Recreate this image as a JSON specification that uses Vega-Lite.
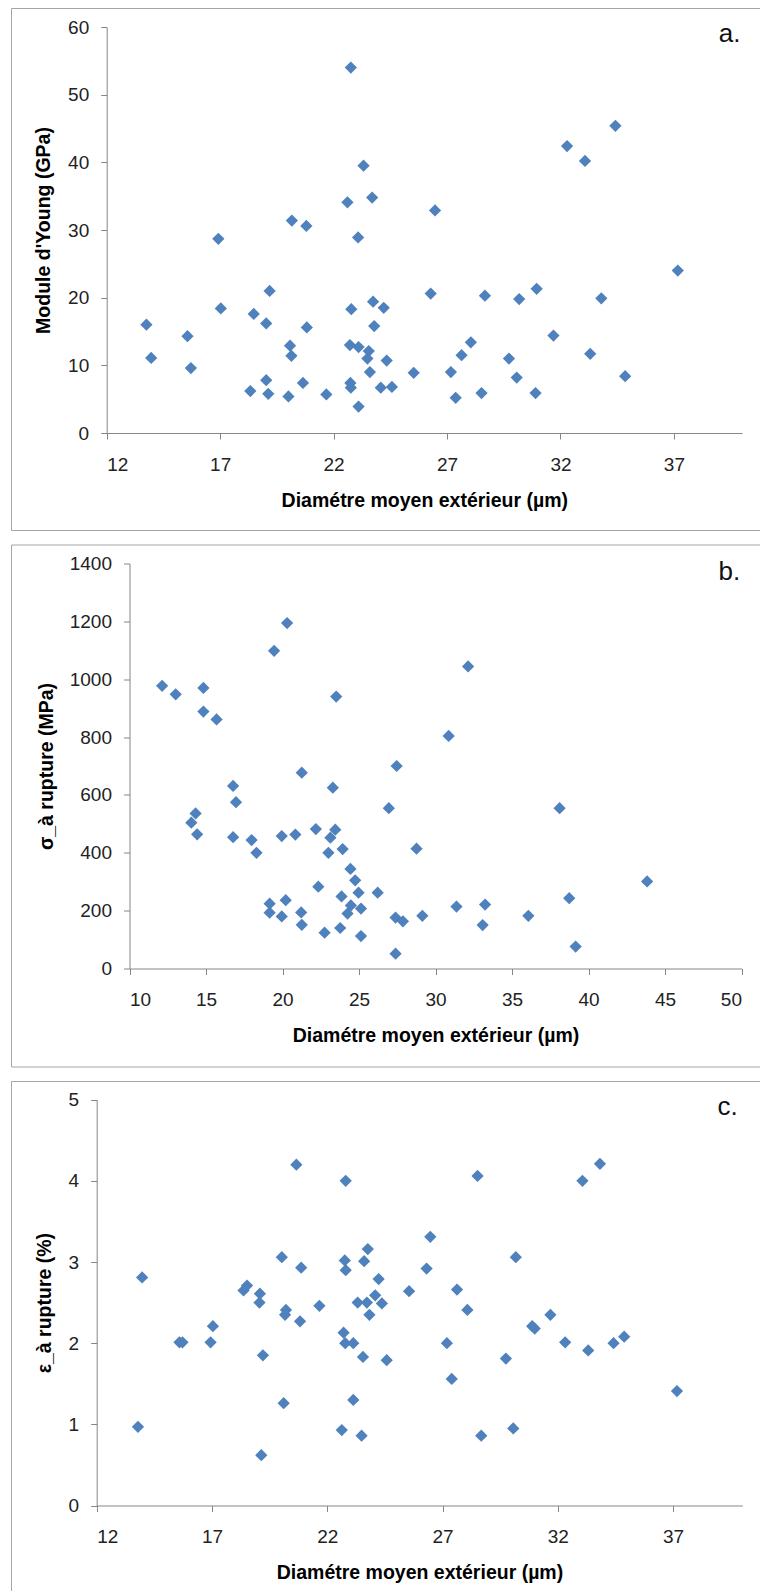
{
  "$schema": "https://vega.github.io/schema/vega-lite/v6.json",
  "padding": {"left": 10, "top": 7, "right": 0, "bottom": 0},
  "spacing": 12.5,
  "config": {
    "view": {"stroke": "#A6A6A6", "strokeWidth": 1},
    "axis": {
      "grid": false,
      "domainColor": "#868686",
      "tickColor": "#868686",
      "tickSize": 6,
      "labelFont": "Liberation Sans",
      "labelFontSize": 19,
      "labelColor": "#222222",
      "titleFont": "Liberation Sans",
      "titleFontSize": 19.5,
      "titleFontWeight": "bold",
      "titleColor": "#000000",
      "titleBaseline": "middle"
    },
    "axisX": {"labelPadding": 16, "titleY": 67},
    "axisY": {"labelPadding": 12}
  },
  "datasets": {
    "a": [
      {"d":13.75,"v":16.0},{"d":13.96,"v":11.1},{"d":15.56,"v":14.3},{"d":15.71,"v":9.6},{"d":16.92,"v":28.7},{"d":17.03,"v":18.4},{"d":18.33,"v":6.2},{"d":18.48,"v":17.6},{"d":19.03,"v":16.2},{"d":19.03,"v":7.8},{"d":19.12,"v":5.8},{"d":19.18,"v":21.0},{"d":20.01,"v":5.4},{"d":20.08,"v":12.9},{"d":20.14,"v":11.4},{"d":20.16,"v":31.4},{"d":20.65,"v":7.4},{"d":20.80,"v":30.6},{"d":20.82,"v":15.6},{"d":21.68,"v":5.7},{"d":22.61,"v":34.1},{"d":22.72,"v":13.0},{"d":22.74,"v":7.4},{"d":22.76,"v":6.7},{"d":22.78,"v":18.3},{"d":22.76,"v":54.0},{"d":23.08,"v":28.9},{"d":23.10,"v":12.7},{"d":23.10,"v":3.9},{"d":23.32,"v":39.5},{"d":23.49,"v":11.0},{"d":23.55,"v":12.1},{"d":23.60,"v":9.0},{"d":23.70,"v":34.8},{"d":23.74,"v":19.4},{"d":23.79,"v":15.8},{"d":24.08,"v":6.7},{"d":24.21,"v":18.5},{"d":24.34,"v":10.7},{"d":24.57,"v":6.8},{"d":25.53,"v":8.9},{"d":26.28,"v":20.6},{"d":26.47,"v":32.9},{"d":27.17,"v":9.0},{"d":27.38,"v":5.2},{"d":27.64,"v":11.5},{"d":28.05,"v":13.4},{"d":28.52,"v":5.9},{"d":28.67,"v":20.3},{"d":29.73,"v":11.0},{"d":30.07,"v":8.2},{"d":30.18,"v":19.8},{"d":30.90,"v":5.9},{"d":30.95,"v":21.3},{"d":31.69,"v":14.4},{"d":32.29,"v":42.4},{"d":33.08,"v":40.2},{"d":33.31,"v":11.7},{"d":33.80,"v":19.9},{"d":34.42,"v":45.4},{"d":34.85,"v":8.4},{"d":37.17,"v":24.0}
    ],
    "b": [
      {"d":12.13,"v":977},{"d":13.02,"v":948},{"d":14.04,"v":504},{"d":14.32,"v":536},{"d":14.42,"v":464},{"d":14.83,"v":970},{"d":14.83,"v":888},{"d":15.69,"v":861},{"d":16.77,"v":631},{"d":16.77,"v":454},{"d":16.96,"v":575},{"d":17.98,"v":444},{"d":18.30,"v":400},{"d":19.16,"v":224},{"d":19.16,"v":193},{"d":19.45,"v":1098},{"d":19.95,"v":180},{"d":19.95,"v":458},{"d":20.21,"v":236},{"d":20.30,"v":1194},{"d":20.84,"v":463},{"d":21.22,"v":194},{"d":21.26,"v":151},{"d":21.26,"v":677},{"d":22.18,"v":482},{"d":22.34,"v":283},{"d":22.75,"v":124},{"d":23.00,"v":400},{"d":23.13,"v":452},{"d":23.29,"v":625},{"d":23.45,"v":480},{"d":23.51,"v":940},{"d":23.77,"v":140},{"d":23.86,"v":249},{"d":23.93,"v":413},{"d":24.25,"v":190},{"d":24.44,"v":344},{"d":24.47,"v":218},{"d":24.75,"v":305},{"d":24.97,"v":262},{"d":25.13,"v":207},{"d":25.13,"v":112},{"d":26.22,"v":262},{"d":26.95,"v":554},{"d":27.39,"v":51},{"d":27.39,"v":176},{"d":27.46,"v":700},{"d":27.87,"v":163},{"d":28.76,"v":414},{"d":29.14,"v":182},{"d":30.86,"v":804},{"d":31.37,"v":214},{"d":32.13,"v":1044},{"d":33.08,"v":150},{"d":33.24,"v":221},{"d":36.07,"v":182},{"d":38.11,"v":554},{"d":38.74,"v":243},{"d":39.16,"v":76},{"d":43.83,"v":301}
    ],
    "c": [
      {"d":13.79,"v":0.97},{"d":13.97,"v":2.81},{"d":15.59,"v":2.01},{"d":15.72,"v":2.01},{"d":16.94,"v":2.01},{"d":17.04,"v":2.21},{"d":18.37,"v":2.65},{"d":18.52,"v":2.71},{"d":19.06,"v":2.50},{"d":19.08,"v":2.61},{"d":19.14,"v":0.62},{"d":19.21,"v":1.85},{"d":20.03,"v":3.06},{"d":20.11,"v":1.26},{"d":20.17,"v":2.35},{"d":20.21,"v":2.41},{"d":20.66,"v":4.20},{"d":20.82,"v":2.27},{"d":20.87,"v":2.93},{"d":21.66,"v":2.46},{"d":22.63,"v":0.93},{"d":22.71,"v":2.13},{"d":22.76,"v":3.02},{"d":22.78,"v":2.00},{"d":22.80,"v":2.90},{"d":22.80,"v":4.00},{"d":23.13,"v":2.00},{"d":23.13,"v":1.30},{"d":23.32,"v":2.50},{"d":23.49,"v":0.86},{"d":23.55,"v":1.83},{"d":23.60,"v":3.01},{"d":23.72,"v":2.50},{"d":23.76,"v":3.16},{"d":23.83,"v":2.35},{"d":24.08,"v":2.59},{"d":24.23,"v":2.79},{"d":24.37,"v":2.49},{"d":24.58,"v":1.79},{"d":25.55,"v":2.64},{"d":26.31,"v":2.92},{"d":26.47,"v":3.31},{"d":27.19,"v":2.00},{"d":27.40,"v":1.56},{"d":27.63,"v":2.66},{"d":28.08,"v":2.41},{"d":28.52,"v":4.06},{"d":28.68,"v":0.86},{"d":29.75,"v":1.81},{"d":30.07,"v":0.95},{"d":30.18,"v":3.06},{"d":30.89,"v":2.21},{"d":31.00,"v":2.18},{"d":31.68,"v":2.35},{"d":32.32,"v":2.01},{"d":33.07,"v":4.00},{"d":33.32,"v":1.91},{"d":33.83,"v":4.21},{"d":34.42,"v":2.00},{"d":34.88,"v":2.08},{"d":37.17,"v":1.41}
    ]
  },
  "vconcat": [
    {
      "width": 750,
      "height": 522,
      "layer": [
        {
          "data": {"name": "a"},
          "mark": {"type": "point", "shape": "diamond", "filled": true, "size": 150, "color": "#4F81BD", "opacity": 1},
          "encoding": {
            "x": {"field": "d", "type": "quantitative", "title": "Diamétre moyen extérieur (µm)",
              "scale": {"domain": [12, 40], "range": [95.7, 731], "nice": false, "zero": false},
              "axis": {"values": [12, 17, 22, 27, 32, 37], "format": "d", "offset": -97}},
            "y": {"field": "v", "type": "quantitative", "title": "Module d'Young (GPa)",
              "scale": {"domain": [0, 60], "range": [425, 19], "nice": false},
              "axis": {"values": [0, 10, 20, 30, 40, 50, 60], "format": "d", "offset": -95.7, "titleX": -62.7}}
          }
        },
        {
          "data": {"values": [{"d": 39.45, "v": 57.75, "lab": "a."}]},
          "mark": {"type": "text", "font": "Liberation Sans", "fontSize": 26, "align": "center", "baseline": "alphabetic", "color": "#111111"},
          "encoding": {
            "x": {"field": "d", "type": "quantitative", "title": "Diamétre moyen extérieur (µm)"},
            "y": {"field": "v", "type": "quantitative", "title": "Module d'Young (GPa)"},
            "text": {"field": "lab"}
          }
        }
      ]
    },
    {
      "width": 750,
      "height": 522,
      "layer": [
        {
          "data": {"name": "b"},
          "mark": {"type": "point", "shape": "diamond", "filled": true, "size": 150, "color": "#4F81BD", "opacity": 1},
          "encoding": {
            "x": {"field": "d", "type": "quantitative", "title": "Diamétre moyen extérieur (µm)",
              "scale": {"domain": [10, 50], "range": [118.5, 730.5], "nice": false, "zero": false},
              "axis": {"values": [10, 15, 20, 25, 30, 35, 40, 45, 50], "format": "d", "offset": -98}},
            "y": {"field": "v", "type": "quantitative", "title": "σ_à rupture (MPa)",
              "scale": {"domain": [0, 1400], "range": [424, 19], "nice": false},
              "axis": {"values": [0, 200, 400, 600, 800, 1000, 1200, 1400], "format": "d", "offset": -118.5, "titleX": -83.5}}
          }
        },
        {
          "data": {"values": [{"d": 49.2, "v": 1343, "lab": "b."}]},
          "mark": {"type": "text", "font": "Liberation Sans", "fontSize": 26, "align": "center", "baseline": "alphabetic", "color": "#111111"},
          "encoding": {
            "x": {"field": "d", "type": "quantitative", "title": "Diamétre moyen extérieur (µm)"},
            "y": {"field": "v", "type": "quantitative", "title": "σ_à rupture (MPa)"},
            "text": {"field": "lab"}
          }
        }
      ]
    },
    {
      "width": 750,
      "height": 515,
      "layer": [
        {
          "data": {"name": "c"},
          "mark": {"type": "point", "shape": "diamond", "filled": true, "size": 150, "color": "#4F81BD", "opacity": 1},
          "encoding": {
            "x": {"field": "d", "type": "quantitative", "title": "Diamétre moyen extérieur (µm)",
              "scale": {"domain": [12, 40], "range": [85.7, 731.2], "nice": false, "zero": false},
              "axis": {"values": [12, 17, 22, 27, 32, 37], "format": "d", "offset": -90.5}},
            "y": {"field": "v", "type": "quantitative", "title": "ε_à rupture (%)",
              "scale": {"domain": [0, 5], "range": [424.5, 18.7], "nice": false},
              "axis": {"values": [0, 1, 2, 3, 4, 5], "format": "d", "offset": -85.7, "titleX": -51.7}}
          }
        },
        {
          "data": {"values": [{"d": 39.37, "v": 4.81, "lab": "c."}]},
          "mark": {"type": "text", "font": "Liberation Sans", "fontSize": 26, "align": "center", "baseline": "alphabetic", "color": "#111111"},
          "encoding": {
            "x": {"field": "d", "type": "quantitative", "title": "Diamétre moyen extérieur (µm)"},
            "y": {"field": "v", "type": "quantitative", "title": "ε_à rupture (%)"},
            "text": {"field": "lab"}
          }
        }
      ]
    }
  ]
}
